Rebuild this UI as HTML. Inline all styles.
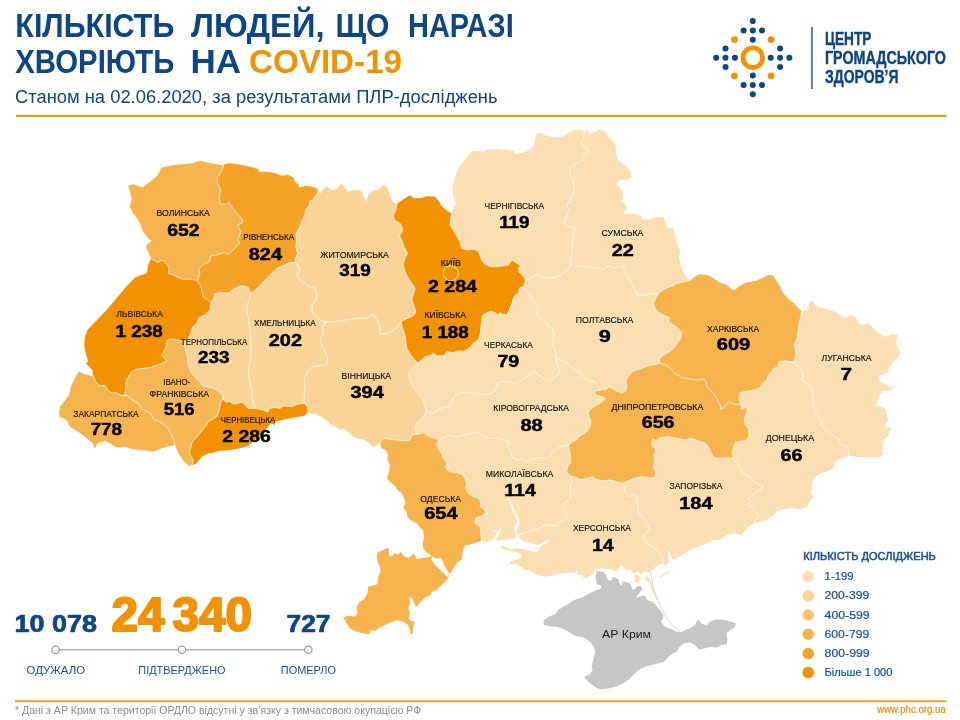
<!DOCTYPE html>
<html lang="uk"><head><meta charset="utf-8"><title>COVID-19</title>
<style>
html,body{margin:0;padding:0;background:#fff;}
body{width:960px;height:720px;overflow:hidden;font-family:"Liberation Sans",sans-serif;}
svg{display:block}
text{font-family:"Liberation Sans",sans-serif;}
</style></head><body>
<svg width="960" height="720" viewBox="0 0 960 720" style="will-change:transform">
<rect width="960" height="720" fill="#fff"/>
<g id="map">
<path d="M150.8 258.7 L149.2 253.3 L145.8 247.5 L147.5 244.2 L151.7 240.8 L148.3 238.3 L143.3 231.7 L140.8 225 L138.3 220 L133.3 213.3 L130 206.7 L130.8 203.3 L131.7 198.3 L130 191.7 L128.3 185.8 L133.3 184.2 L142.5 187.5 L150 181.7 L157.5 175.8 L161.7 167.5 L175 165 L192.5 163.3 L200 160.8 L206.7 162.5 L220 165 L223.3 164.7 L230 163.3 L241.7 165 L250 166.7 L258.3 169.2 L259.2 171.7 L266.7 171.7 L275 173.3 L281.7 175.8 L288.3 175 L293.3 177.5 L295 181.7 L298.3 184.2 L299.2 187.5 L306.7 185.8 L311.7 186.7 L316.7 188.3 L318.3 190.3 L320.8 193.3 L324.2 188.3 L326.7 186.7 L331.7 190 L336.7 189.2 L341.7 184.2 L345 188.3 L348.3 191.7 L355 190 L360.8 190.8 L363.3 196.7 L366.7 201.7 L368.3 195 L373.3 190.8 L380 189.2 L383.3 185 L387.5 188.3 L390 196.7 L393.3 202.5 L397 203.7 L400 201.7 L405 198.3 L410 195.3 L413.3 198.3 L420 198.3 L426.7 196.3 L435 196.7 L439.2 201.7 L440.8 205 L444.2 208.3 L448.3 211.7 L451.7 213.3 L453.3 208.3 L455.8 203.3 L453.3 196.7 L452.5 190 L453.3 183.3 L455.8 175 L459.2 166.7 L465 160 L470 153.3 L473.3 150.8 L483.3 151.7 L488.3 149.2 L496.7 149.2 L506.7 150 L513.3 150.8 L515 154.2 L523.3 152.5 L530 150 L534.2 145.8 L535 140 L536.7 133.3 L540 132.5 L546.7 135.8 L555 137.5 L561.7 137.5 L568.3 133.3 L575 130 L580 129.7 L584.7 130.8 L585 130.8 L588.3 130.3 L590 135 L595 131.7 L600 129.7 L604.2 130.8 L608.3 136.7 L613.3 141.7 L615.8 145.8 L615.8 153.3 L617.5 159.2 L622.5 163.3 L626.7 166.7 L630.8 171.7 L631.7 176.7 L627.5 179.2 L620 180 L616.7 182.5 L619.2 186.7 L622.5 191.7 L623 196.7 L621.7 201.7 L625.8 205 L626.7 208.3 L622.5 213.3 L628.3 214.2 L631.7 213.3 L638.3 215 L641.7 215.8 L642.5 219.2 L648.3 219.7 L656.7 216.7 L663.3 216.7 L665.8 223.3 L668.3 228.3 L673.3 228.3 L675 235 L676.7 243.3 L680 250 L679.2 258.3 L680.8 266.7 L684.2 273.3 L687.5 278.3 L690.8 279.7 L690.8 280 L695 276.7 L700 274.2 L706.7 275 L713.3 278.3 L720 282.5 L726.7 285 L731.7 289.2 L735 290 L738.3 286.7 L746.7 282.5 L756.7 280.8 L763.3 277.5 L768.3 275 L773.3 275.8 L775.8 280 L780 286.7 L783.3 293.3 L788.3 299.2 L794.2 303.3 L799.2 309.2 L801.7 311.3 L808.3 310 L809.2 301.7 L813.3 300.8 L815 305 L820 307.5 L830 310 L838.3 313.3 L843.3 318.3 L848.3 316.7 L852.5 315 L855.8 318.3 L858.3 323.3 L863.3 325 L868.3 323.3 L873.3 328.3 L878.3 333.3 L885 336.7 L891.7 334.2 L898.3 335 L895.8 341.7 L896.7 346.7 L900 351.7 L898.3 356.7 L893.3 361.7 L889.2 367.5 L888.3 372.5 L883.3 374.2 L878.3 376.7 L880 381.7 L886.7 385 L890 387.5 L894.2 385.8 L890.8 390 L883.3 390.8 L879.2 395 L878.3 400.8 L875.8 405.8 L881.7 406.7 L885.8 409.2 L886.7 415 L888.3 420 L884.2 425 L886.7 428.3 L891.7 427.5 L889.2 432.5 L887.5 436.7 L883.3 440 L882.5 445.8 L881.7 450 L883.3 454.2 L879.2 457.5 L871.7 456.7 L863.3 457.5 L856.7 456.7 L850 455.8 L848.3 456.3 L843.3 457.5 L838.3 459.2 L835 463.3 L833.3 468.3 L826.7 471.7 L820 473.3 L815 476.7 L812.5 481.7 L811.7 490 L810.8 491.7 L813.3 496.7 L810 501.7 L806.7 506.7 L800 509.2 L791.7 508.3 L783.3 509.2 L776.7 511.7 L771.7 516.7 L766.7 520 L760 521.7 L754.2 523.3 L748.3 526.7 L745 530.8 L741.7 535 L733.3 533.3 L726.7 535 L720 540 L713.3 540 L706.7 543.3 L698.3 546.7 L690 550 L681.7 555 L678.3 557.5 L673.3 560 L670.8 555 L668.3 550 L667.5 553.3 L669.2 558.3 L668.3 563.3 L663.3 565.8 L663.3 562.4 L657.1 566 L655 567.6 L651.9 570.2 L649.8 573.3 L646.7 571.2 L642.5 572.3 L640.4 574.4 L638.3 571.2 L634.2 573.3 L630 570.2 L625.8 570.2 L623.8 567.1 L620.6 565 L618.5 570.2 L614.4 571.2 L610.2 568.6 L606 569.2 L601.9 567.6 L598.8 569.2 L595.6 567.1 L594.6 571.2 L590.4 575.4 L586.2 578.5 L580 574.4 L576.7 575 L577.5 569.2 L575 573.3 L568.3 572.5 L563.3 573.3 L556.7 574.2 L551.7 575.8 L545 576.7 L538.3 575 L533.3 573.3 L530 570 L524.2 570 L521 566.9 L516.9 564.8 L511.7 564.3 L509.6 562.7 L511.7 561.1 L515.8 560.1 L520 558.5 L522.1 555.9 L519 553.3 L514.8 551.8 L511.1 550.7 L505.4 550.2 L501.2 548.1 L499.7 546 L504.4 546.6 L511.7 549.2 L516.9 548.6 L522.1 549.2 L528.3 550.2 L532.5 551.8 L536.7 551.8 L539.3 550.2 L539.3 548.1 L541.9 546 L547.1 542.4 L550.2 539.3 L542.9 542.4 L537.7 545 L533.5 544 L529.9 542.4 L526.2 542.9 L523.1 540.8 L520 538.2 L518.4 536.1 L519.2 534.7 L517.4 533.5 L516.9 530.4 L517.9 527.3 L519.5 523.1 L519 520 L517.9 515.8 L515.8 513.2 L513.8 509.6 L512.7 505.4 L510.6 501.2 L508.5 498.1 L507 498.6 L508.5 501.2 L510.6 505.4 L511.7 509.6 L513.8 513.8 L515.8 516.9 L517.4 521 L515.8 525.2 L513.8 528.3 L514.8 531.5 L515.8 535.6 L514.8 538.8 L509.6 539.3 L503.3 539.8 L500.2 540.8 L496 539.8 L497.1 537.7 L499.2 533.5 L501.8 528.3 L500.7 527.8 L497.1 532.5 L495 529.4 L493.4 529.4 L496 533.5 L495 536.7 L492.4 539.8 L488.8 541.4 L483.5 541.4 L481.5 540.8 L476.7 542.5 L470 544.2 L465 545.8 L463.3 548.3 L462.5 553.3 L461.7 560 L457.5 561.7 L453.3 568.3 L450 574.2 L446.7 580 L441.7 585 L436.7 590 L432.5 591.7 L430 595 L425 597.5 L421.7 600.8 L417.5 605.8 L415.8 606.7 L414.2 602.5 L411.7 597.5 L409.2 596.7 L410 603.3 L408.3 608.3 L410 613.3 L408.3 618.3 L411.7 621.7 L414.2 620.8 L413.3 626.7 L412.5 633.3 L410.8 635 L410 630 L408.3 625 L403.3 621.7 L396.7 620 L391.7 621.7 L385 625 L378.3 628.3 L375.8 630.8 L370.8 630 L369.2 634.2 L363.3 633.3 L356.7 631.7 L350 628.3 L346.7 623.3 L343.3 617.5 L348.3 615.8 L355 616.7 L357.5 613.3 L356.7 606.7 L360 601.7 L364.2 599.2 L367.5 593.3 L368.3 586.7 L377.5 584.2 L378.3 576.7 L380.8 570 L378.3 563.3 L376.7 556.7 L377.5 552.5 L383.3 550 L388.3 547.5 L389.2 556.7 L393.3 555.8 L395 552.5 L397.5 555 L400.8 551.7 L403.3 555.8 L408.3 558.3 L411.7 555 L414.2 554.2 L416.7 559.2 L421.7 558.3 L428.3 557.5 L431.7 555.8 L430.8 555 L426.7 552.5 L423.3 548.3 L422.5 543.3 L424.2 538.3 L423.3 530.8 L420 527.5 L416.7 523.3 L411.7 520.8 L407.5 517.5 L406.7 511.7 L403.3 507.5 L405.8 503.3 L404.2 498.3 L401.7 493.3 L397.5 490 L395.8 486.7 L391.7 483.3 L386.7 478.3 L389.2 471.7 L390 465 L387.5 460 L388.3 455 L385.8 450 L381.7 448.3 L380 443.3 L378.3 445 L373.3 446.7 L370 443.3 L365 440 L358.3 438.3 L353.3 436.7 L348.3 431.7 L343.3 428.3 L340 430 L336.7 426.7 L331.7 425 L326.7 420.8 L321.7 416.7 L316.7 414.2 L311.7 413.3 L306.7 414.2 L305 415.8 L298.3 416.7 L290 418.3 L281.7 420 L275 421.7 L275 425 L270.8 423.3 L266.7 428.3 L261.7 435 L255 440 L248.3 445.8 L240 448.3 L230 450 L220 450.8 L210 453.3 L208.3 453.3 L201.7 456.7 L196.7 463.3 L191.7 465.8 L189.2 465.8 L183.3 460.8 L178.3 453.3 L175 445 L170 445.8 L161.7 448.3 L153.3 451.7 L143.3 450 L133.3 449.2 L125 446.7 L116.7 447.5 L110 443.3 L105 440.8 L97.5 443.3 L95 448.3 L92.5 443.3 L85 436.7 L78.3 431.7 L70 426.7 L66.7 420 L60 416.7 L59.6 418.3 L59.2 413.3 L60 406.7 L64.2 401.7 L69.2 395 L70.8 386.7 L75 377.9 L79.2 371.2 L81.7 373.3 L86.7 375 L91.7 376.2 L93.8 377.1 L92.5 373.3 L92.9 370.8 L90 367.5 L85.8 363.3 L88.3 361.7 L85.8 353.3 L84.2 345 L85 336.7 L87.5 330 L106.7 310 L115 300 L125 288.3 L135 277.5 L146.7 273.3 L148.3 265 L150.8 258.7Z" fill="#FBDEB2"/>
<path d="M645.1 575.9 L648.8 578 L651.4 581.7 L653.4 589 L655.5 594.7 L657.6 599.4 L656.6 599.9 L654 594.2 L651.9 590 L650.8 584.8 L647.7 581.7 L645.6 579.1Z" fill="#FBDEB2"/>
<path d="M634.2 573.9 L638.3 574.9 L640.9 579.1 L638.3 582.7 L633.6 581.7 L635.2 577.5Z" fill="#FBDEB2"/>
<path d="M659.7 577.5 L664.4 574.9 L669.6 571.2" fill="none" stroke="#F7C98A" stroke-width="0.8"/>
<path d="M595.6 567.1 L598.2 571.2 L604 572.3 L606 575.4 L607.1 579.6 L611.2 580.6 L612.3 577.5 L615.4 577.5 L618.5 579.6 L619.6 583.8 L621.7 585.8 L622.7 581.7 L625.8 581.7 L630 583.8 L632.1 589 L634.2 590 L636.2 586.9 L640.4 585.8 L642.5 589 L638.3 594.2 L636.2 598.3 L640.4 596.2 L644.6 595.2 L647.7 600.4 L651.9 601.5 L655 604.6 L659.2 608.8 L663.3 615 L663.3 618.3 L660.8 621.7 L665 626.7 L671.7 629.2 L671.7 629.2 L676.7 631.7 L680.8 632.5 L685 630 L690 628.3 L695 625 L697.5 620 L699.2 619.2 L700.8 623.3 L706.7 625.8 L710 621.7 L716.7 619.2 L725 620 L731.7 621.7 L735.8 623.3 L735 627.5 L730 630 L726.7 633.3 L727.5 640 L726.7 644.2 L721.7 645 L716.7 647.5 L710 646.7 L705 648.3 L699.2 649.7 L695 645 L690 642.5 L683.3 643.3 L679.2 647.5 L676.7 651.7 L673.3 653.3 L668.3 656.7 L664.2 661.7 L658.3 663.3 L651.7 665 L645 666.7 L638.3 670 L633.3 675 L628.3 680 L623.3 683.3 L618.3 685.8 L610 688.3 L601.7 689.2 L596.7 688.3 L590 683.3 L585 678.3 L584.2 676.7 L590 674.2 L592.5 670 L591.7 665 L593.3 660 L595 653.3 L594.2 646.7 L590 641.7 L585 638.3 L580 636.7 L575 635.8 L568.3 631.7 L561.7 628.3 L556.7 626.7 L551.7 626.7 L544.2 625 L543.3 620.8 L548.3 616.7 L555 614.2 L558.3 610 L563.3 606.7 L569.2 603.3 L574.2 600 L580 598.3 L586.7 595 L590.4 593.1 L596.7 590 L601.9 587.9 L600.8 585.8 L596.7 583.8 L595.6 577.5 L596.7 571.2Z" fill="#C6C6C6"/>
<path d="M650.5 572 L652 580 L654 590 L657.5 599 L663.3 612 L668 620 L675 628 L681 632.5" fill="none" stroke="#DCCBB0" stroke-width="0.8"/>
<path d="M150.8 258.7 L149.2 253.3 L145.8 247.5 L147.5 244.2 L151.7 240.8 L148.3 238.3 L143.3 231.7 L140.8 225 L138.3 220 L133.3 213.3 L130 206.7 L130.8 203.3 L131.7 198.3 L130 191.7 L128.3 185.8 L133.3 184.2 L142.5 187.5 L150 181.7 L157.5 175.8 L161.7 167.5 L175 165 L192.5 163.3 L200 160.8 L206.7 162.5 L220 165 L223.3 164.7 L222.5 169.2 L217.5 177.5 L217.5 183.3 L220.8 190 L219.2 196.7 L220 204.2 L226.7 204.2 L229.2 202.5 L231.7 206.7 L236.7 213.3 L241.7 218.3 L242.5 222.5 L237.5 225 L240.8 231.7 L238.3 238.3 L239.2 243.3 L233.3 250 L228.3 254.2 L224.2 252.5 L216.7 255 L210.8 255.8 L209.2 261.7 L202.5 265 L198.3 269.2 L200 273.3 L198.3 277.5 L197.5 280.8 L195.8 280 L190 279.2 L181.7 279.2 L173.3 275 L168.3 273.3 L169.2 269.2 L167.5 265 L162.5 260 L157.5 262.5 L155 260.8 L150.8 258.7Z" fill="#F7B34D"/>
<path d="M223.3 164.7 L230 163.3 L241.7 165 L250 166.7 L258.3 169.2 L259.2 171.7 L266.7 171.7 L275 173.3 L281.7 175.8 L288.3 175 L293.3 177.5 L295 181.7 L298.3 184.2 L299.2 187.5 L306.7 185.8 L311.7 186.7 L316.7 188.3 L318.3 190.3 L316.7 195 L314.2 196.7 L313.3 200 L310 200.8 L309.2 205.8 L305.8 210 L305 215 L302.5 220 L300.8 225 L298.3 230 L295.8 233.3 L296.7 240 L295.8 246.7 L297.5 253.3 L295 260 L295.8 262.5 L290 262.5 L283.3 265.8 L276.7 268.3 L271.7 273.3 L266.7 278.3 L260 285.8 L253.3 291.7 L250.8 293.3 L248.3 287.5 L241.7 285.8 L235 288.3 L228.3 293.3 L220 292.5 L214.2 294.2 L214.2 298.3 L210.8 302.5 L203.3 296.7 L201.7 290 L200.8 285.8 L197.5 280.8 L198.3 277.5 L200 273.3 L198.3 269.2 L202.5 265 L209.2 261.7 L210.8 255.8 L216.7 255 L224.2 252.5 L228.3 254.2 L233.3 250 L239.2 243.3 L238.3 238.3 L240.8 231.7 L237.5 225 L242.5 222.5 L241.7 218.3 L236.7 213.3 L231.7 206.7 L229.2 202.5 L226.7 204.2 L220 204.2 L219.2 196.7 L220.8 190 L217.5 183.3 L217.5 177.5 L222.5 169.2 L223.3 164.7Z" fill="#F5A226"/>
<path d="M150.8 258.7 L155 260.8 L157.5 262.5 L162.5 260 L167.5 265 L169.2 269.2 L168.3 273.3 L173.3 275 L181.7 279.2 L190 279.2 L195.8 280 L197.5 280.8 L200.8 285.8 L201.7 290 L203.3 296.7 L210.8 302.5 L210 310 L205 315 L199.2 317.5 L196.7 323.3 L192.5 327.5 L190.8 333.3 L188.3 338.3 L184.2 341.7 L178.3 340 L170.8 339.2 L166.7 340.8 L166.7 345.8 L164.2 350.8 L161.7 355.8 L166.7 360.8 L160 364.2 L150 367.5 L136.7 369.2 L131.7 371.7 L126.7 380 L125.8 386.7 L124.6 395.7 L119.2 394.6 L115.8 392.5 L113.3 392.9 L110 392.1 L107.5 390 L105 385.4 L102.1 385.8 L99.2 385.4 L95.4 381.2 L93.8 377.1 L92.5 373.3 L92.9 370.8 L90 367.5 L85.8 363.3 L88.3 361.7 L85.8 353.3 L84.2 345 L85 336.7 L87.5 330 L106.7 310 L115 300 L125 288.3 L135 277.5 L146.7 273.3 L148.3 265 L150.8 258.7Z" fill="#F39200"/>
<path d="M93.8 377.1 L91.7 376.2 L86.7 375 L81.7 373.3 L79.2 371.2 L75 377.9 L70.8 386.7 L69.2 395 L64.2 401.7 L60 406.7 L59.2 413.3 L59.6 418.3 L60 416.7 L66.7 420 L70 426.7 L78.3 431.7 L85 436.7 L92.5 443.3 L95 448.3 L97.5 443.3 L105 440.8 L110 443.3 L116.7 447.5 L125 446.7 L133.3 449.2 L143.3 450 L153.3 451.7 L161.7 448.3 L170 445.8 L175 445 L173.3 438.3 L170 431.7 L166.7 426.7 L160 421.7 L153.3 419.2 L150.8 413.3 L143.3 410 L138.3 403.3 L133.3 400.8 L126.7 395 L124.6 395.7 L119.2 394.6 L115.8 392.5 L113.3 392.9 L110 392.1 L107.5 390 L105 385.4 L102.1 385.8 L99.2 385.4 L95.4 381.2 L93.8 377.1Z" fill="#F7B34D"/>
<path d="M124.6 395.7 L125.8 386.7 L126.7 380 L131.7 371.7 L136.7 369.2 L150 367.5 L160 364.2 L166.7 360.8 L161.7 355.8 L164.2 350.8 L166.7 345.8 L166.7 340.8 L170.8 339.2 L178.3 340 L184.2 341.7 L185 348.3 L187.5 356.7 L188.3 365 L190.8 371.7 L195.8 378.3 L200.8 381.7 L202.5 385.8 L208.3 386.7 L213.3 388.3 L218.3 390.8 L222.5 395 L223 399.2 L220.8 401.7 L219.2 410 L216.7 416.7 L208.3 421.7 L206.7 425 L198.3 435 L191.7 443.3 L189.2 453.3 L193.3 460 L191.7 465.8 L189.2 465.8 L183.3 460.8 L178.3 453.3 L175 445 L173.3 438.3 L170 431.7 L166.7 426.7 L160 421.7 L153.3 419.2 L150.8 413.3 L143.3 410 L138.3 403.3 L133.3 400.8 L126.7 395 L124.6 395.7Z" fill="#F6B656"/>
<path d="M191.7 465.8 L193.3 460 L189.2 453.3 L191.7 443.3 L198.3 435 L206.7 425 L208.3 421.7 L216.7 416.7 L219.2 410 L220.8 401.7 L223 399.2 L226.7 402.5 L229.2 400.8 L233.3 404.2 L238.3 403 L242.5 402 L245.8 405.8 L248 408.3 L255 408.3 L263.3 410 L268 412 L269.2 408.3 L275 407.5 L280 408.3 L284.2 405.8 L291.7 406.7 L296.7 404.2 L304.2 403.3 L307.5 406.7 L308.3 411.7 L305 415.8 L306.7 414.2 L305 415.8 L298.3 416.7 L290 418.3 L281.7 420 L275 421.7 L275 425 L270.8 423.3 L266.7 428.3 L261.7 435 L255 440 L248.3 445.8 L240 448.3 L230 450 L220 450.8 L210 453.3 L208.3 453.3 L201.7 456.7 L196.7 463.3 L191.7 465.8Z" fill="#F39200"/>
<path d="M210.8 302.5 L214.2 298.3 L214.2 294.2 L220 292.5 L228.3 293.3 L235 288.3 L241.7 285.8 L248.3 287.5 L250.8 293.3 L249.2 300 L246.7 306.7 L247.5 315 L249.2 323.3 L250 333.3 L250.8 340 L250.8 350 L251.3 356.7 L249.2 365 L248.3 373.3 L250 381.7 L251.7 390 L252.5 400 L254.2 405.8 L255 408.3 L248 408.3 L245.8 405.8 L242.5 402 L238.3 403 L233.3 404.2 L229.2 400.8 L226.7 402.5 L223 399.2 L222.5 395 L218.3 390.8 L213.3 388.3 L208.3 386.7 L202.5 385.8 L200.8 381.7 L195.8 378.3 L190.8 371.7 L188.3 365 L187.5 356.7 L185 348.3 L184.2 341.7 L188.3 338.3 L190.8 333.3 L192.5 327.5 L196.7 323.3 L199.2 317.5 L205 315 L210 310 L210.8 302.5Z" fill="#FAD399"/>
<path d="M250.8 293.3 L253.3 291.7 L260 285.8 L266.7 278.3 L271.7 273.3 L276.7 268.3 L283.3 265.8 L290 262.5 L295.8 262.5 L300 270 L296.7 275 L300 280 L306.7 285 L311.7 288.3 L314.2 286.7 L316.7 293.3 L315.8 301.7 L311.7 305 L312.5 311.7 L316.7 316.7 L321.7 320.8 L325.8 322 L322.5 326.7 L323.3 333.3 L320 340 L322.5 346.7 L325.8 353.3 L327.5 358.3 L326.7 364.2 L319.2 365.8 L312.5 366.7 L307.5 371.7 L304.2 378.3 L305 386.7 L304.2 396.7 L304.2 403.3 L296.7 404.2 L291.7 406.7 L284.2 405.8 L280 408.3 L275 407.5 L269.2 408.3 L268 412 L263.3 410 L255 408.3 L254.2 405.8 L252.5 400 L251.7 390 L250 381.7 L248.3 373.3 L249.2 365 L251.3 356.7 L250.8 350 L250.8 340 L250 333.3 L249.2 323.3 L247.5 315 L246.7 306.7 L249.2 300 L250.8 293.3Z" fill="#FAD399"/>
<path d="M318.3 190.3 L320.8 193.3 L324.2 188.3 L326.7 186.7 L331.7 190 L336.7 189.2 L341.7 184.2 L345 188.3 L348.3 191.7 L355 190 L360.8 190.8 L363.3 196.7 L366.7 201.7 L368.3 195 L373.3 190.8 L380 189.2 L383.3 185 L387.5 188.3 L390 196.7 L393.3 202.5 L397 203.7 L395.8 210 L393.3 215 L394.2 220 L400 223.3 L402.5 228.3 L401.7 233.3 L399.2 235 L401.7 240 L404 246.7 L407.5 253.3 L405 258.3 L403.3 263.3 L404.2 270 L407.5 276.7 L410.8 281.7 L415 288.3 L413.3 295 L411.7 299 L414 306 L415.8 312 L413.3 316 L406.7 318.5 L400.8 321.7 L398.3 325.8 L393.3 330.8 L386.7 333.3 L380 334.2 L380 325 L376.7 319.2 L373.3 314.2 L366.7 318.3 L356.7 318.3 L345 320 L333.3 321.7 L325.8 322 L321.7 320.8 L316.7 316.7 L312.5 311.7 L311.7 305 L315.8 301.7 L316.7 293.3 L314.2 286.7 L311.7 288.3 L306.7 285 L300 280 L296.7 275 L300 270 L295.8 262.5 L295 260 L297.5 253.3 L295.8 246.7 L296.7 240 L295.8 233.3 L298.3 230 L300.8 225 L302.5 220 L305 215 L305.8 210 L309.2 205.8 L310 200.8 L313.3 200 L314.2 196.7 L316.7 195 L318.3 190.3Z" fill="#FAD399"/>
<path d="M325.8 322 L333.3 321.7 L345 320 L356.7 318.3 L366.7 318.3 L373.3 314.2 L376.7 319.2 L380 325 L380 334.2 L386.7 333.3 L393.3 330.8 L398.3 325.8 L400.8 321.7 L402.5 328.3 L405 335 L405.8 341.7 L406.7 348.3 L410.8 355 L415 360 L418 363 L413.3 366.7 L409.2 371.7 L408.3 376.7 L410.8 381.7 L413.3 388.3 L418.3 393.3 L422.5 399 L425 406 L426 411 L425 415 L423.3 417.5 L419.2 420 L415.8 425 L415 430 L417 434.2 L411.7 435 L410 440 L403.3 440.8 L396.7 440 L390 439.2 L383.3 438.3 L378.3 445 L373.3 446.7 L370 443.3 L365 440 L358.3 438.3 L353.3 436.7 L348.3 431.7 L343.3 428.3 L340 430 L336.7 426.7 L331.7 425 L326.7 420.8 L321.7 416.7 L316.7 414.2 L311.7 413.3 L306.7 414.2 L305 415.8 L308.3 411.7 L307.5 406.7 L304.2 403.3 L304.2 396.7 L305 386.7 L304.2 378.3 L307.5 371.7 L312.5 366.7 L319.2 365.8 L326.7 364.2 L327.5 358.3 L325.8 353.3 L322.5 346.7 L320 340 L323.3 333.3 L322.5 326.7 L325.8 322Z" fill="#FAD399"/>
<path d="M397 203.7 L400 201.7 L405 198.3 L410 195.3 L413.3 198.3 L420 198.3 L426.7 196.3 L435 196.7 L439.2 201.7 L440.8 205 L444.2 208.3 L448.3 211.7 L451.7 213.3 L450.8 218.3 L450 225 L453.3 230 L456.7 235.8 L460 241.7 L461.7 248.3 L466.7 250 L473.3 249.2 L477.5 250 L480 255 L481.7 260 L485 264.2 L490 266.7 L496.7 266.7 L503.3 265.8 L508.3 265 L511.7 260 L515 261.9 L518.8 264.4 L520.6 266.2 L518.1 268.8 L519.4 272.5 L522.5 275 L524.4 278.1 L525.6 280 L523.8 286.2 L522.5 286.9 L519.4 288.1 L518.8 292.5 L515 295.6 L513.1 298.8 L512.5 302.5 L510.6 306.2 L509.4 310 L506.9 315 L502.5 314.4 L500 312.5 L497.5 315 L495 312.5 L491.2 311.2 L486.2 313.1 L482.5 315.6 L481.7 321.7 L480.8 328.3 L480 335 L478.3 340 L473.3 343.3 L470 347.5 L463.3 351.7 L458.3 350.8 L453.3 352.5 L446.7 351.7 L444.2 355.8 L436.7 355.8 L433.3 353.3 L430 355.8 L425 356.7 L421.7 360 L418 363 L415 360 L410.8 355 L406.7 348.3 L405.8 341.7 L405 335 L402.5 328.3 L400.8 321.7 L406.7 318.5 L413.3 316 L415.8 312 L414 306 L411.7 299 L413.3 295 L415 288.3 L410.8 281.7 L407.5 276.7 L404.2 270 L403.3 263.3 L405 258.3 L407.5 253.3 L404 246.7 L401.7 240 L399.2 235 L401.7 233.3 L402.5 228.3 L400 223.3 L394.2 220 L393.3 215 L395.8 210 L397 203.7Z" fill="#F39200"/>
<path d="M378.3 445 L383.3 438.3 L390 439.2 L396.7 440 L403.3 440.8 L410 440 L411.7 435 L417 434.2 L421.7 433.3 L424.2 432.5 L426.7 435 L431.7 437.5 L438.3 439.2 L438.5 441 L436.7 444.2 L438.3 449.2 L441.7 453.3 L443.3 458.3 L446.7 463.3 L445.8 468.3 L450 471.7 L456.7 472.5 L461.7 474.2 L465 478.3 L466.7 483.3 L465.8 488.3 L468.3 493.3 L473.3 496.7 L479.2 498.3 L480.8 503.3 L480 506.7 L485 510 L486.7 515 L486.7 512.5 L481.7 515.8 L475.8 518.3 L475 523.3 L480 526.7 L480.8 533.3 L481.5 540.8 L476.7 542.5 L470 544.2 L465 545.8 L463.3 548.3 L462.5 553.3 L461.7 560 L457.5 561.7 L453.3 568.3 L450 574.2 L446.7 580 L441.7 585 L436.7 590 L432.5 591.7 L430 595 L425 597.5 L421.7 600.8 L417.5 605.8 L415.8 606.7 L414.2 602.5 L411.7 597.5 L409.2 596.7 L410 603.3 L408.3 608.3 L410 613.3 L408.3 618.3 L411.7 621.7 L414.2 620.8 L413.3 626.7 L412.5 633.3 L410.8 635 L410 630 L408.3 625 L403.3 621.7 L396.7 620 L391.7 621.7 L385 625 L378.3 628.3 L375.8 630.8 L370.8 630 L369.2 634.2 L363.3 633.3 L356.7 631.7 L350 628.3 L346.7 623.3 L343.3 617.5 L348.3 615.8 L355 616.7 L357.5 613.3 L356.7 606.7 L360 601.7 L364.2 599.2 L367.5 593.3 L368.3 586.7 L377.5 584.2 L378.3 576.7 L380.8 570 L378.3 563.3 L376.7 556.7 L377.5 552.5 L383.3 550 L388.3 547.5 L389.2 556.7 L393.3 555.8 L395 552.5 L397.5 555 L400.8 551.7 L403.3 555.8 L408.3 558.3 L411.7 555 L414.2 554.2 L416.7 559.2 L421.7 558.3 L428.3 557.5 L431.7 555.8 L430.8 555 L426.7 552.5 L423.3 548.3 L422.5 543.3 L424.2 538.3 L423.3 530.8 L420 527.5 L416.7 523.3 L411.7 520.8 L407.5 517.5 L406.7 511.7 L403.3 507.5 L405.8 503.3 L404.2 498.3 L401.7 493.3 L397.5 490 L395.8 486.7 L391.7 483.3 L386.7 478.3 L389.2 471.7 L390 465 L387.5 460 L388.3 455 L385.8 450 L381.7 448.3 L380 443.3 L378.3 445Z" fill="#F7B34D"/>
<path d="M690.8 280 L695 276.7 L700 274.2 L706.7 275 L713.3 278.3 L720 282.5 L726.7 285 L731.7 289.2 L735 290 L738.3 286.7 L746.7 282.5 L756.7 280.8 L763.3 277.5 L768.3 275 L773.3 275.8 L775.8 280 L780 286.7 L783.3 293.3 L788.3 299.2 L794.2 303.3 L799.2 309.2 L801.7 311.3 L800.8 316.7 L799.2 323.3 L798.3 330 L797.5 336.7 L794.2 345 L795.8 351.7 L795 358.3 L794.2 361.3 L791.7 361.7 L785 360.8 L779.2 361.7 L777.5 366.7 L773.3 369.2 L768.3 375 L766.7 380 L763.3 382.5 L760 387.5 L755 390 L750.8 390.8 L745 391.7 L740 392.5 L739.2 398.3 L740.8 403.3 L735.8 405 L731.7 403.3 L728.3 402.5 L724.2 407.5 L720 409.2 L720.8 406.7 L718.3 401.7 L716.7 398.3 L714.2 395 L710.8 390 L705.8 385.8 L706.7 382.5 L704.2 379.2 L698.3 380 L690 379.2 L681.7 377.5 L675 373.3 L670.8 369.2 L666.7 365 L659.7 363 L659.2 361.7 L660 357.5 L665 354.2 L670.8 350.8 L675 346.7 L677.5 341.7 L680.8 339.2 L681.7 333.3 L678.3 328.3 L673.3 325 L668.3 321.7 L669.2 317.5 L665 315.8 L660 313.3 L655 308.3 L653.3 303.3 L655.8 298.3 L658.7 293 L661.7 290.8 L667.5 287.5 L673.3 285.8 L676.7 283.3 L685 281.7 L690.8 280Z" fill="#F7B34D"/>
<path d="M600.8 389.7 L605.8 389.7 L609.2 386.7 L615 390 L621.7 393 L625.8 390.8 L626.7 385.8 L625.8 381.7 L628.3 375.8 L633.3 370.8 L641.7 368.3 L650 365 L656.7 364.2 L659.7 363 L666.7 365 L670.8 369.2 L675 373.3 L681.7 377.5 L690 379.2 L698.3 380 L704.2 379.2 L706.7 382.5 L705.8 385.8 L710.8 390 L714.2 395 L716.7 398.3 L718.3 401.7 L720.8 406.7 L720 409.2 L724.2 407.5 L728.3 402.5 L731.7 403.3 L735.8 405 L740.8 403.3 L741.7 409.2 L746.7 406.7 L747.5 410.8 L745 416.7 L744.2 423.3 L748.3 428.3 L749.2 435 L746.7 440 L740 441.7 L735 442.5 L733.3 448.3 L732.5 453.3 L733.3 458.3 L726.7 457.7 L720 458.3 L713.7 457.7 L710.8 452.5 L708.7 447 L705 443.3 L698.3 440.8 L691.7 438.3 L685 440 L676.7 438.3 L668.3 436.7 L660 437.5 L656.7 440.8 L652.5 439.2 L651.7 445 L655.8 450 L654.2 455 L655 460 L653.3 466.7 L655.8 471.7 L655 478.3 L648.3 477.5 L641.7 476.7 L635 478.3 L628.3 480.8 L622.8 483.3 L616.7 481.7 L610 480 L601.7 480.8 L595 479.2 L593.3 476.7 L590 477.5 L585 479.2 L580.8 480 L576.7 477.5 L570.8 476.3 L566.7 471.7 L567.5 466.7 L570.8 461.7 L570 453.3 L568.3 445 L572.5 441.7 L577.5 439.2 L578.3 436.7 L581.7 435 L586.7 431.7 L590 426.7 L590.8 420 L589.2 418.3 L588.3 411.7 L591.7 408.3 L596.7 405 L601.7 401.7 L605 399.2 L604.2 397.5 L598.3 395.8 L593.3 393.3 L596.7 390.8 L600.8 389.7Z" fill="#F7B34D"/>
<path d="M432 556.3 L431.3 560 L435 565 L440 569.7 L444.2 573.8 L447 577 L450 574.2 L447 570 L444.5 565.8 L442.8 561.7 L441.2 558 L436.7 558.8Z" fill="#fff"/>
<path d="M223.3 164.7 L222.5 169.2 L217.5 177.5 L217.5 183.3 L220.8 190 L219.2 196.7 L220 204.2 L226.7 204.2 L229.2 202.5 L231.7 206.7 L236.7 213.3 L241.7 218.3 L242.5 222.5 L237.5 225 L240.8 231.7 L238.3 238.3 L239.2 243.3 L233.3 250 L228.3 254.2 L224.2 252.5 L216.7 255 L210.8 255.8 L209.2 261.7 L202.5 265 L198.3 269.2 L200 273.3 L198.3 277.5 L197.5 280.8 M150.8 258.7 L155 260.8 L157.5 262.5 L162.5 260 L167.5 265 L169.2 269.2 L168.3 273.3 L173.3 275 L181.7 279.2 L190 279.2 L195.8 280 L197.5 280.8 M197.5 280.8 L200.8 285.8 L201.7 290 L203.3 296.7 L210.8 302.5 M210.8 302.5 L214.2 298.3 L214.2 294.2 L220 292.5 L228.3 293.3 L235 288.3 L241.7 285.8 L248.3 287.5 L250.8 293.3 M210.8 302.5 L210 310 L205 315 L199.2 317.5 L196.7 323.3 L192.5 327.5 L190.8 333.3 L188.3 338.3 L184.2 341.7 M93.8 377.1 L95.4 381.2 L99.2 385.4 L102.1 385.8 L105 385.4 L107.5 390 L110 392.1 L113.3 392.9 L115.8 392.5 L119.2 394.6 L124.6 395.7 M124.6 395.7 L125.8 386.7 L126.7 380 L131.7 371.7 L136.7 369.2 L150 367.5 L160 364.2 L166.7 360.8 L161.7 355.8 L164.2 350.8 L166.7 345.8 L166.7 340.8 L170.8 339.2 L178.3 340 L184.2 341.7 M175 445 L173.3 438.3 L170 431.7 L166.7 426.7 L160 421.7 L153.3 419.2 L150.8 413.3 L143.3 410 L138.3 403.3 L133.3 400.8 L126.7 395 L124.6 395.7 M184.2 341.7 L185 348.3 L187.5 356.7 L188.3 365 L190.8 371.7 L195.8 378.3 L200.8 381.7 L202.5 385.8 L208.3 386.7 L213.3 388.3 L218.3 390.8 L222.5 395 L223 399.2 M191.7 465.8 L193.3 460 L189.2 453.3 L191.7 443.3 L198.3 435 L206.7 425 L208.3 421.7 L216.7 416.7 L219.2 410 L220.8 401.7 L223 399.2 M223 399.2 L226.7 402.5 L229.2 400.8 L233.3 404.2 L238.3 403 L242.5 402 L245.8 405.8 L248 408.3 L255 408.3 M250.8 293.3 L249.2 300 L246.7 306.7 L247.5 315 L249.2 323.3 L250 333.3 L250.8 340 L250.8 350 L251.3 356.7 L249.2 365 L248.3 373.3 L250 381.7 L251.7 390 L252.5 400 L254.2 405.8 L255 408.3 M255 408.3 L263.3 410 L268 412 L269.2 408.3 L275 407.5 L280 408.3 L284.2 405.8 L291.7 406.7 L296.7 404.2 L304.2 403.3 M304.2 403.3 L307.5 406.7 L308.3 411.7 L305 415.8 L306.7 414.2 M250.8 293.3 L253.3 291.7 L260 285.8 L266.7 278.3 L271.7 273.3 L276.7 268.3 L283.3 265.8 L290 262.5 L295.8 262.5 M318.3 190.3 L316.7 195 L314.2 196.7 L313.3 200 L310 200.8 L309.2 205.8 L305.8 210 L305 215 L302.5 220 L300.8 225 L298.3 230 L295.8 233.3 L296.7 240 L295.8 246.7 L297.5 253.3 L295 260 L295.8 262.5 M295.8 262.5 L300 270 L296.7 275 L300 280 L306.7 285 L311.7 288.3 L314.2 286.7 L316.7 293.3 L315.8 301.7 L311.7 305 L312.5 311.7 L316.7 316.7 L321.7 320.8 L325.8 322 M325.8 322 L322.5 326.7 L323.3 333.3 L320 340 L322.5 346.7 L325.8 353.3 L327.5 358.3 L326.7 364.2 L319.2 365.8 L312.5 366.7 L307.5 371.7 L304.2 378.3 L305 386.7 L304.2 396.7 L304.2 403.3 M325.8 322 L333.3 321.7 L345 320 L356.7 318.3 L366.7 318.3 L373.3 314.2 L376.7 319.2 L380 325 L380 334.2 L386.7 333.3 L393.3 330.8 L398.3 325.8 L400.8 321.7 M397 203.7 L395.8 210 L393.3 215 L394.2 220 L400 223.3 L402.5 228.3 L401.7 233.3 L399.2 235 L401.7 240 L404 246.7 L407.5 253.3 L405 258.3 L403.3 263.3 L404.2 270 L407.5 276.7 L410.8 281.7 L415 288.3 L413.3 295 L411.7 299 L414 306 L415.8 312 L413.3 316 L406.7 318.5 L400.8 321.7 M400.8 321.7 L402.5 328.3 L405 335 L405.8 341.7 L406.7 348.3 L410.8 355 L415 360 L418 363 M418 363 L413.3 366.7 L409.2 371.7 L408.3 376.7 L410.8 381.7 L413.3 388.3 L418.3 393.3 L422.5 399 L425 406 L426 411 L425 415 M425 415 L423.3 417.5 L419.2 420 L415.8 425 L415 430 L417 434.2 M417 434.2 L411.7 435 L410 440 L403.3 440.8 L396.7 440 L390 439.2 L383.3 438.3 L378.3 445 M417 434.2 L421.7 433.3 L424.2 432.5 L426.7 435 L431.7 437.5 L438.3 439.2 L438.5 441 M438.5 441 L436.7 444.2 L438.3 449.2 L441.7 453.3 L443.3 458.3 L446.7 463.3 L445.8 468.3 L450 471.7 L456.7 472.5 L461.7 474.2 L465 478.3 L466.7 483.3 L465.8 488.3 L468.3 493.3 L473.3 496.7 L479.2 498.3 L480.8 503.3 L480 506.7 L485 510 L486.7 515 L486.7 512.5 L481.7 515.8 L475.8 518.3 L475 523.3 L480 526.7 L480.8 533.3 L481.5 540.8 M451.7 213.3 L450.8 218.3 L450 225 L453.3 230 L456.7 235.8 L460 241.7 L461.7 248.3 L466.7 250 L473.3 249.2 L477.5 250 L480 255 L481.7 260 L485 264.2 L490 266.7 L496.7 266.7 L503.3 265.8 L508.3 265 L511.7 260 L515 261.9 L518.8 264.4 L520.6 266.2 L518.1 268.8 L519.4 272.5 L522.5 275 L524.4 278.1 L525.6 280 M525.6 280 L523.8 286.2 L522.5 286.9 M522.5 286.9 L519.4 288.1 L518.8 292.5 L515 295.6 L513.1 298.8 L512.5 302.5 L510.6 306.2 L509.4 310 L506.9 315 L502.5 314.4 L500 312.5 L497.5 315 L495 312.5 L491.2 311.2 L486.2 313.1 L482.5 315.6 L481.7 321.7 L480.8 328.3 L480 335 L478.3 340 L473.3 343.3 L470 347.5 L463.3 351.7 L458.3 350.8 L453.3 352.5 L446.7 351.7 L444.2 355.8 L436.7 355.8 L433.3 353.3 L430 355.8 L425 356.7 L421.7 360 L418 363 M585 130.8 L583.3 137.5 L581.7 143.3 L585 148.3 L589.2 150 L586.7 153.3 L583.3 155 L582.5 160 L575 164.2 L570.8 168.3 L569.2 173.3 L573.3 180 L574.2 188.3 L572.5 195 L570 201.7 L566.7 204.2 L569.2 210 L566.7 216.7 L563.3 223.3 L568.3 226.7 L569.2 226.7 L575 228.3 L573.3 235 L572.5 243.3 L571.7 251.7 L570.8 260 L570.5 265.3 M570.5 265.3 L567.5 269.4 L562.5 273.8 L556.2 276.9 L550 278.1 L543.8 277.5 L540 275 L533.8 275.6 L530 278.1 L525.6 280 M570.5 265.3 L576.7 265.8 L585 266.7 L596.7 268.3 L604.2 269.2 L608.3 265.8 L611.7 268.3 L618.3 267.5 L623.3 265.8 L624.2 270.8 L626.7 275 L630 280 L632.5 285.8 L635.8 290 L636.7 295.8 L646.7 294.2 L653.3 293.3 L658.7 293 M690.8 280 L685 281.7 L676.7 283.3 L673.3 285.8 L667.5 287.5 L661.7 290.8 L658.7 293 M658.7 293 L655.8 298.3 L653.3 303.3 L655 308.3 L660 313.3 L665 315.8 L669.2 317.5 L668.3 321.7 L673.3 325 L678.3 328.3 L681.7 333.3 L680.8 339.2 L677.5 341.7 L675 346.7 L670.8 350.8 L665 354.2 L660 357.5 L659.2 361.7 L659.7 363 M600.8 389.7 L605.8 389.7 L609.2 386.7 L615 390 L621.7 393 L625.8 390.8 L626.7 385.8 L625.8 381.7 L628.3 375.8 L633.3 370.8 L641.7 368.3 L650 365 L656.7 364.2 L659.7 363 M568.3 445 L572.5 441.7 L577.5 439.2 L578.3 436.7 L581.7 435 L586.7 431.7 L590 426.7 L590.8 420 L589.2 418.3 L588.3 411.7 L591.7 408.3 L596.7 405 L601.7 401.7 L605 399.2 L604.2 397.5 L598.3 395.8 L593.3 393.3 L596.7 390.8 L600.8 389.7 M659.7 363 L666.7 365 L670.8 369.2 L675 373.3 L681.7 377.5 L690 379.2 L698.3 380 L704.2 379.2 L706.7 382.5 L705.8 385.8 L710.8 390 L714.2 395 L716.7 398.3 L718.3 401.7 L720.8 406.7 L720 409.2 L724.2 407.5 L728.3 402.5 L731.7 403.3 L735.8 405 L740.8 403.3 M740.8 403.3 L739.2 398.3 L740 392.5 L745 391.7 L750.8 390.8 L755 390 L760 387.5 L763.3 382.5 L766.7 380 L768.3 375 L773.3 369.2 L777.5 366.7 L779.2 361.7 L785 360.8 L791.7 361.7 L794.2 361.3 M801.7 311.3 L800.8 316.7 L799.2 323.3 L798.3 330 L797.5 336.7 L794.2 345 L795.8 351.7 L795 358.3 L794.2 361.3 M794.2 361.3 L796.7 365 L801.7 370 L803.3 375 L801.7 380 L808.3 383.3 L811.7 388.3 L813.3 395 L812.5 401.7 L814.2 408.3 L815.8 414.2 L820 417.5 L821.7 421.7 L820 425 L825 427.5 L828.3 433.3 L833.3 435.8 L838.3 439.2 L839.2 444.2 L846.7 446.7 L849.2 451.7 L848.3 456.3 M740.8 403.3 L741.7 409.2 L746.7 406.7 L747.5 410.8 L745 416.7 L744.2 423.3 L748.3 428.3 L749.2 435 L746.7 440 L740 441.7 L735 442.5 L733.3 448.3 L732.5 453.3 L733.3 458.3 M733.3 458.3 L726.7 457.7 L720 458.3 L713.7 457.7 L710.8 452.5 L708.7 447 L705 443.3 L698.3 440.8 L691.7 438.3 L685 440 L676.7 438.3 L668.3 436.7 L660 437.5 L656.7 440.8 L652.5 439.2 L651.7 445 L655.8 450 L654.2 455 L655 460 L653.3 466.7 L655.8 471.7 L655 478.3 L648.3 477.5 L641.7 476.7 L635 478.3 L628.3 480.8 L622.8 483.3 M622.8 483.3 L616.7 481.7 L610 480 L601.7 480.8 L595 479.2 L593.3 476.7 L590 477.5 L585 479.2 L580.8 480 L576.7 477.5 L570.8 476.3 M570.8 476.3 L566.7 471.7 L567.5 466.7 L570.8 461.7 L570 453.3 L568.3 445 M522.5 286.9 L525.6 290 L529.4 293.8 L531.2 293.1 L530.6 297.5 L533.8 301.2 L536.9 305 L538.8 308.8 L536.9 313.8 L538.8 317.5 L542.5 320 L546.2 322.5 L548.1 325.6 L552.5 329.4 L554.2 337.5 L552.5 343.3 L555 350 L556.7 358.3 M556.7 358.3 L563.3 361.7 L570 365.8 L575 370 L580.8 373.3 L583.3 377.5 L590 380.8 L595.8 382.5 L597.5 385 L600.8 389.7 M556.7 358.3 L556.7 361.7 L558.3 366.7 L559.2 371.7 L556.7 376.7 L551.7 378.3 L545 380 L541.7 376.7 L537.5 375 L535 370.8 L531.7 372.5 L526.7 376.7 L521.7 380.8 L515 383.3 L506.7 381.7 L497.5 382.5 L496.7 388.3 L493.3 392.5 L486.7 395 L476.7 393.3 L466.7 392.5 L458.3 393.3 L453.3 397.5 L451.7 404.2 L448.3 406.7 L440 408.3 L433.3 413.3 L426.7 411.7 L425 415 M438.5 441 L441.7 438.3 L448.3 435.8 L456.7 436.7 L466.7 434.2 L475 432.5 L480 433.3 L484.2 437.5 L490 438.3 L498.3 438.3 L505 440 L509.2 442.5 L508.3 447.5 L510.8 451.7 L513.3 458.3 L518.3 460 L523.3 458.3 L526.7 461.7 L531.7 459.2 L538.3 457.5 L546.7 458.3 L550.8 455.8 L551.7 451.7 L556.7 448.3 L562.5 445.8 L566.7 445 L568.3 445 M570.8 476.3 L572.5 482.5 L570 486.7 L570.8 493.3 L570 500 L565 502.5 L563.3 508.3 L567.5 515 L565 520 L558.3 522.5 L556.7 525.8 L550 525 L543.3 525.8 L538.3 528.3 L533.3 530 L528.3 531.7 L523.3 533.3 L519.2 534.7 M622.8 483.3 L625 490 L627.5 496.7 L631.7 495.8 L635.8 494.2 L636.7 500 L637.5 506.7 L638.3 513.3 L643.3 518.3 L648.3 523.3 L649.2 530 L645 535 L642.5 535 L645 540 L648.3 544.2 L653.3 547.5 L658.3 551.7 L661.7 556.7 L663.3 562.5 L663.3 565.8 M733.3 458.3 L735.8 462.5 L740 467.5 L741.7 472.5 L746.7 475.8 L753.3 480 L758.3 484.2 L763.3 485 L761.7 489.2 L756.7 491.7 L753.3 495 L749.2 497.5 L750 501.7 L747.5 504.2 L752.5 508.3 L756.7 512.5 L758.3 515.8 L755 520 L754.2 523.3" fill="none" stroke="#fff" stroke-width="0.85" stroke-linejoin="round" stroke-linecap="round" opacity="0.9"/>
</g>
<text transform="translate(15.3 36.8) scale(0.9172 1)" font-size="33.2" font-weight="bold" fill="#0E4584">КІЛЬКІСТЬ</text>
<text transform="translate(191 36.8) scale(0.9849 1)" font-size="33.2" font-weight="bold" fill="#0E4584">ЛЮДЕЙ,</text>
<text transform="translate(335.5 36.8) scale(0.9054 1)" font-size="33.2" font-weight="bold" fill="#0E4584">ЩО</text>
<text transform="translate(408 36.8) scale(0.8725 1)" font-size="33.2" font-weight="bold" fill="#0E4584">НАРАЗІ</text>
<text transform="translate(15.3 72.8) scale(0.8834 1)" font-size="33.2" font-weight="bold" fill="#0E4584">ХВОРІЮТЬ</text>
<text transform="translate(190.5 72.8) scale(1.0535 1)" font-size="33.2" font-weight="bold" fill="#0E4584">НА</text>
<text transform="translate(249 72.8) scale(0.9995 1)" font-size="33.2" font-weight="bold" fill="#F39200">COVID-19</text>
<text transform="translate(15 102.7) scale(0.9669 1)" font-size="19" font-weight="normal" fill="#0E4584">Станом на 02.06.2020, за результатами ПЛР-досліджень</text>
<rect x="16" y="114.9" width="930.5" height="2" fill="#F39200"/>
<circle cx="752.8" cy="57.7" r="9.8" fill="none" stroke="#F39200" stroke-width="4.8"/>
<circle cx="752.8" cy="39.8" r="3" fill="#0E4584"/>
<circle cx="752.8" cy="21.1" r="3" fill="#0E4584"/>
<circle cx="752.8" cy="30.4" r="3" fill="#0E4584"/>
<circle cx="743.6" cy="30.4" r="3" fill="#0E4584"/>
<circle cx="762.0" cy="30.4" r="3" fill="#0E4584"/>
<circle cx="752.8" cy="75.6" r="3" fill="#0E4584"/>
<circle cx="752.8" cy="94.3" r="3" fill="#0E4584"/>
<circle cx="752.8" cy="85.0" r="3" fill="#0E4584"/>
<circle cx="762.0" cy="85.0" r="3" fill="#0E4584"/>
<circle cx="743.6" cy="85.0" r="3" fill="#0E4584"/>
<circle cx="734.9" cy="57.7" r="3" fill="#0E4584"/>
<circle cx="716.2" cy="57.7" r="3" fill="#0E4584"/>
<circle cx="725.5" cy="57.7" r="3" fill="#0E4584"/>
<circle cx="725.5" cy="48.5" r="3" fill="#0E4584"/>
<circle cx="725.5" cy="66.9" r="3" fill="#0E4584"/>
<circle cx="770.7" cy="57.7" r="3" fill="#0E4584"/>
<circle cx="789.4" cy="57.7" r="3" fill="#0E4584"/>
<circle cx="780.1" cy="57.7" r="3" fill="#0E4584"/>
<circle cx="780.1" cy="66.9" r="3" fill="#0E4584"/>
<circle cx="780.1" cy="48.5" r="3" fill="#0E4584"/>
<circle cx="734.5" cy="39.6" r="3.4" fill="#F39200"/>
<circle cx="771.1" cy="39.6" r="3.4" fill="#F39200"/>
<circle cx="734.5" cy="75.8" r="3.4" fill="#F39200"/>
<circle cx="771.1" cy="75.8" r="3.4" fill="#F39200"/>
<rect x="811.3" y="27" width="1.3" height="62" fill="#0E4584"/>
<text transform="translate(825 44.7) scale(0.7738 1)" font-size="17.7" font-weight="bold" fill="#0E4584" stroke="#0E4584" stroke-width="0.4">ЦЕНТР</text>
<text transform="translate(825 63.7) scale(0.8082 1)" font-size="17.7" font-weight="bold" fill="#0E4584" stroke="#0E4584" stroke-width="0.4">ГРОМАДСЬКОГО</text>
<text transform="translate(825 82.7) scale(0.7889 1)" font-size="17.7" font-weight="bold" fill="#0E4584" stroke="#0E4584" stroke-width="0.4">ЗДОРОВ’Я</text>
<text transform="translate(156.6 215.9) scale(0.9666 1)" font-size="9" font-weight="normal" fill="#111" stroke="#111" stroke-width="0.15">ВОЛИНСЬКА</text>
<text transform="translate(243.35 239.6) scale(0.8885 1)" font-size="9" font-weight="normal" fill="#111" stroke="#111" stroke-width="0.15">РІВНЕНСЬКА</text>
<text transform="translate(116.6 317.1) scale(0.9321 1)" font-size="9" font-weight="normal" fill="#111" stroke="#111" stroke-width="0.15">ЛЬВІВСЬКА</text>
<text transform="translate(180.85 344.5) scale(0.8844 1)" font-size="9" font-weight="normal" fill="#111" stroke="#111" stroke-width="0.15">ТЕРНОПІЛЬСЬКА</text>
<text transform="translate(163.35 385.1) scale(0.8806 1)" font-size="9" font-weight="normal" fill="#111" stroke="#111" stroke-width="0.15">ІВАНО-</text>
<text transform="translate(149.6 397.1) scale(0.9627 1)" font-size="9" font-weight="normal" fill="#111" stroke="#111" stroke-width="0.15">ФРАНКІВСЬКА</text>
<text transform="translate(73.35 417.1) scale(0.9381 1)" font-size="9" font-weight="normal" fill="#111" stroke="#111" stroke-width="0.15">ЗАКАРПАТСЬКА</text>
<text transform="translate(220.85 422.6) scale(0.8682 1)" font-size="9" font-weight="normal" fill="#111" stroke="#111" stroke-width="0.15">ЧЕРНІВЕЦЬКА</text>
<text transform="translate(320.35 257.6) scale(0.9772 1)" font-size="9" font-weight="normal" fill="#111" stroke="#111" stroke-width="0.15">ЖИТОМИРСЬКА</text>
<text transform="translate(440.85 265.85) scale(0.9917 1)" font-size="9" font-weight="normal" fill="#111" stroke="#111" stroke-width="0.15">КИЇВ</text>
<text transform="translate(424.6 318.35) scale(0.9477 1)" font-size="9" font-weight="normal" fill="#111" stroke="#111" stroke-width="0.15">КИЇВСЬКА</text>
<text transform="translate(254.1 326.35) scale(0.9076 1)" font-size="9" font-weight="normal" fill="#111" stroke="#111" stroke-width="0.15">ХМЕЛЬНИЦЬКА</text>
<text transform="translate(341.6 378.85) scale(0.9569 1)" font-size="9" font-weight="normal" fill="#111" stroke="#111" stroke-width="0.15">ВІННИЦЬКА</text>
<text transform="translate(484.6 208.85) scale(0.9343 1)" font-size="9" font-weight="normal" fill="#111" stroke="#111" stroke-width="0.15">ЧЕРНІГІВСЬКА</text>
<text transform="translate(601.6 236.35) scale(0.9703 1)" font-size="9" font-weight="normal" fill="#111" stroke="#111" stroke-width="0.15">СУМСЬКА</text>
<text transform="translate(575.85 323.1) scale(0.9617 1)" font-size="9" font-weight="normal" fill="#111" stroke="#111" stroke-width="0.15">ПОЛТАВСЬКА</text>
<text transform="translate(484.1 347.6) scale(0.9257 1)" font-size="9" font-weight="normal" fill="#111" stroke="#111" stroke-width="0.15">ЧЕРКАСЬКА</text>
<text transform="translate(493.35 411.35) scale(0.9525 1)" font-size="9" font-weight="normal" fill="#111" stroke="#111" stroke-width="0.15">КІРОВОГРАДСЬКА</text>
<text transform="translate(485.85 477.1) scale(0.9680 1)" font-size="9" font-weight="normal" fill="#111" stroke="#111" stroke-width="0.15">МИКОЛАЇВСЬКА</text>
<text transform="translate(420.35 502.3) scale(0.9586 1)" font-size="9" font-weight="normal" fill="#111" stroke="#111" stroke-width="0.15">ОДЕСЬКА</text>
<text transform="translate(707.1 332.1) scale(0.9445 1)" font-size="9" font-weight="normal" fill="#111" stroke="#111" stroke-width="0.15">ХАРКІВСЬКА</text>
<text transform="translate(611.6 409.6) scale(0.9714 1)" font-size="9" font-weight="normal" fill="#111" stroke="#111" stroke-width="0.15">ДНІПРОПЕТРОВСЬКА</text>
<text transform="translate(765.85 441.35) scale(0.9773 1)" font-size="9" font-weight="normal" fill="#111" stroke="#111" stroke-width="0.15">ДОНЕЦЬКА</text>
<text transform="translate(821.6 361.35) scale(0.9613 1)" font-size="9" font-weight="normal" fill="#111" stroke="#111" stroke-width="0.15">ЛУГАНСЬКА</text>
<text transform="translate(572.9 530.8) scale(0.9483 1)" font-size="9" font-weight="normal" fill="#111" stroke="#111" stroke-width="0.15">ХЕРСОНСЬКА</text>
<text transform="translate(669.6 489.4) scale(0.9444 1)" font-size="9" font-weight="normal" fill="#111" stroke="#111" stroke-width="0.15">ЗАПОРІЗЬКА</text>
<text transform="translate(167.2 236.25) scale(1.1338 1)" font-size="17.1" font-weight="bold" fill="#000" stroke="#000" stroke-width="0.45">652</text>
<text transform="translate(248.7 260) scale(1.1689 1)" font-size="17.1" font-weight="bold" fill="#000" stroke="#000" stroke-width="0.45">824</text>
<text transform="translate(115.45 336.6) scale(1.1068 1)" font-size="17.1" font-weight="bold" fill="#000" stroke="#000" stroke-width="0.45">1 238</text>
<text transform="translate(197.95 363.4) scale(1.1076 1)" font-size="17.1" font-weight="bold" fill="#000" stroke="#000" stroke-width="0.45">233</text>
<text transform="translate(163.7 415) scale(1.0813 1)" font-size="17.1" font-weight="bold" fill="#000" stroke="#000" stroke-width="0.45">516</text>
<text transform="translate(90.45 434.5) scale(1.1076 1)" font-size="17.1" font-weight="bold" fill="#000" stroke="#000" stroke-width="0.45">778</text>
<text transform="translate(222.2 442) scale(1.1360 1)" font-size="17.1" font-weight="bold" fill="#000" stroke="#000" stroke-width="0.45">2 286</text>
<text transform="translate(339.2 275.5) scale(1.1076 1)" font-size="17.1" font-weight="bold" fill="#000" stroke="#000" stroke-width="0.45">319</text>
<text transform="translate(427.95 292) scale(1.1477 1)" font-size="17.1" font-weight="bold" fill="#000" stroke="#000" stroke-width="0.45">2 284</text>
<text transform="translate(421.7 337.5) scale(1.1009 1)" font-size="17.1" font-weight="bold" fill="#000" stroke="#000" stroke-width="0.45">1 188</text>
<text transform="translate(268.7 345.75) scale(1.1689 1)" font-size="17.1" font-weight="bold" fill="#000" stroke="#000" stroke-width="0.45">202</text>
<text transform="translate(350.45 398) scale(1.1689 1)" font-size="17.1" font-weight="bold" fill="#000" stroke="#000" stroke-width="0.45">394</text>
<text transform="translate(499.2 227.5) scale(1.1005 1)" font-size="17.1" font-weight="bold" fill="#000" stroke="#000" stroke-width="0.45">119</text>
<text transform="translate(611.7 255.5) scale(1.1622 1)" font-size="17.1" font-weight="bold" fill="#000" stroke="#000" stroke-width="0.45">22</text>
<text transform="translate(598.7 342) scale(1.2716 1)" font-size="17.1" font-weight="bold" fill="#000" stroke="#000" stroke-width="0.45">9</text>
<text transform="translate(497.45 366.75) scale(1.1491 1)" font-size="17.1" font-weight="bold" fill="#000" stroke="#000" stroke-width="0.45">79</text>
<text transform="translate(520.45 430.5) scale(1.1753 1)" font-size="17.1" font-weight="bold" fill="#000" stroke="#000" stroke-width="0.45">88</text>
<text transform="translate(504.2 496.25) scale(1.1458 1)" font-size="17.1" font-weight="bold" fill="#000" stroke="#000" stroke-width="0.45">114</text>
<text transform="translate(424.2 519.3) scale(1.1671 1)" font-size="17.1" font-weight="bold" fill="#000" stroke="#000" stroke-width="0.45">654</text>
<text transform="translate(716.7 350) scale(1.1777 1)" font-size="17.1" font-weight="bold" fill="#000" stroke="#000" stroke-width="0.45">609</text>
<text transform="translate(641.7 428.25) scale(1.1514 1)" font-size="17.1" font-weight="bold" fill="#000" stroke="#000" stroke-width="0.45">656</text>
<text transform="translate(780.45 460.5) scale(1.1622 1)" font-size="17.1" font-weight="bold" fill="#000" stroke="#000" stroke-width="0.45">66</text>
<text transform="translate(840.45 379.5) scale(1.2190 1)" font-size="17.1" font-weight="bold" fill="#000" stroke="#000" stroke-width="0.45">7</text>
<text transform="translate(591.9 551) scale(1.1359 1)" font-size="17.1" font-weight="bold" fill="#000" stroke="#000" stroke-width="0.45">14</text>
<text transform="translate(679.2 508.5) scale(1.1671 1)" font-size="17.1" font-weight="bold" fill="#000" stroke="#000" stroke-width="0.45">184</text>
<circle cx="450.75" cy="273.25" r="7.5" fill="none" stroke="#fff" stroke-width="0.9" opacity="0.9"/>
<text transform="translate(602 638.3) scale(1.0957 1)" font-size="11.2" font-weight="normal" fill="#1d1d1b">АР Крим</text>
<text transform="translate(14.5 632.3) scale(1.1431 1)" font-size="23.6" font-weight="bold" fill="#0E4584" stroke="#0E4584" stroke-width="0.7" stroke-linejoin="round">10 078</text>
<text transform="translate(111.5 630.6) scale(1.0030 1)" font-size="47.5" font-weight="bold" fill="#F39200" stroke="#F39200" stroke-width="2" stroke-linejoin="round">24</text>
<text transform="translate(172.5 630.6) scale(1.0030 1)" font-size="47.5" font-weight="bold" fill="#F39200" stroke="#F39200" stroke-width="2" stroke-linejoin="round">340</text>
<text transform="translate(286.5 632.3) scale(1.1175 1)" font-size="23.6" font-weight="bold" fill="#0E4584" stroke="#0E4584" stroke-width="0.7" stroke-linejoin="round">727</text>
<rect x="55.5" y="649.2" width="252.7" height="1.2" fill="#a0a0a0"/>
<circle cx="55.5" cy="649.8" r="3.7" fill="#fff" stroke="#9a9a9a" stroke-width="1.2"/>
<circle cx="181.9" cy="649.8" r="3.7" fill="#fff" stroke="#9a9a9a" stroke-width="1.2"/>
<circle cx="308.25" cy="649.8" r="3.7" fill="#fff" stroke="#9a9a9a" stroke-width="1.2"/>
<text transform="translate(26.5 673.75) scale(1.0479 1)" font-size="10.9" font-weight="normal" fill="#17509A">ОДУЖАЛО</text>
<text transform="translate(138.3 673.75) scale(1.0025 1)" font-size="10.9" font-weight="normal" fill="#17509A">ПІДТВЕРДЖЕНО</text>
<text transform="translate(280.8 673.75) scale(1.0054 1)" font-size="10.9" font-weight="normal" fill="#17509A">ПОМЕРЛО</text>
<rect x="15" y="700.4" width="931.5" height="1.7" fill="#F39200"/>
<text transform="translate(15 714.2) scale(1.0248 1)" font-size="10.3" font-weight="normal" fill="#8a8a8a">* Дані з АР Крим та території ОРДЛО відсутні у зв’язку з тимчасовою окупацією РФ</text>
<text transform="translate(877.2 713.3) scale(0.9101 1)" font-size="10.6" font-weight="normal" fill="#F39200" stroke="#F39200" stroke-width="0.25">www.phc.org.ua</text>
<text transform="translate(803.3 560) scale(1.0161 1)" font-size="10.9" font-weight="normal" fill="#17509A" stroke="#17509A" stroke-width="0.5">КІЛЬКІСТЬ ДОСЛІДЖЕНЬ</text>
<circle cx="808.25" cy="576.75" r="5.8" fill="#FBDEB2"/>
<text transform="translate(824.6 580) scale(1.0930 1)" font-size="10.4" font-weight="normal" fill="#17509A" stroke="#17509A" stroke-width="0.2">1-199</text>
<circle cx="808.25" cy="596" r="5.8" fill="#FAD399"/>
<text transform="translate(824.6 599.25) scale(1.1680 1)" font-size="10.4" font-weight="normal" fill="#17509A" stroke="#17509A" stroke-width="0.2">200-399</text>
<circle cx="808.25" cy="615" r="5.8" fill="#F8C373"/>
<text transform="translate(824.6 618.5) scale(1.1812 1)" font-size="10.4" font-weight="normal" fill="#17509A" stroke="#17509A" stroke-width="0.2">400-599</text>
<circle cx="808.25" cy="634.25" r="5.8" fill="#F7B34D"/>
<text transform="translate(824.6 637.5) scale(1.1680 1)" font-size="10.4" font-weight="normal" fill="#17509A" stroke="#17509A" stroke-width="0.2">600-799</text>
<circle cx="808.25" cy="653.5" r="5.8" fill="#F5A226"/>
<text transform="translate(824.6 656.75) scale(1.1812 1)" font-size="10.4" font-weight="normal" fill="#17509A" stroke="#17509A" stroke-width="0.2">800-999</text>
<circle cx="808.25" cy="672.5" r="5.8" fill="#F39200"/>
<text transform="translate(824.6 675.75) scale(1.0659 1)" font-size="10.4" font-weight="normal" fill="#17509A" stroke="#17509A" stroke-width="0.2">Більше 1 000</text>
</svg>
</body></html>
